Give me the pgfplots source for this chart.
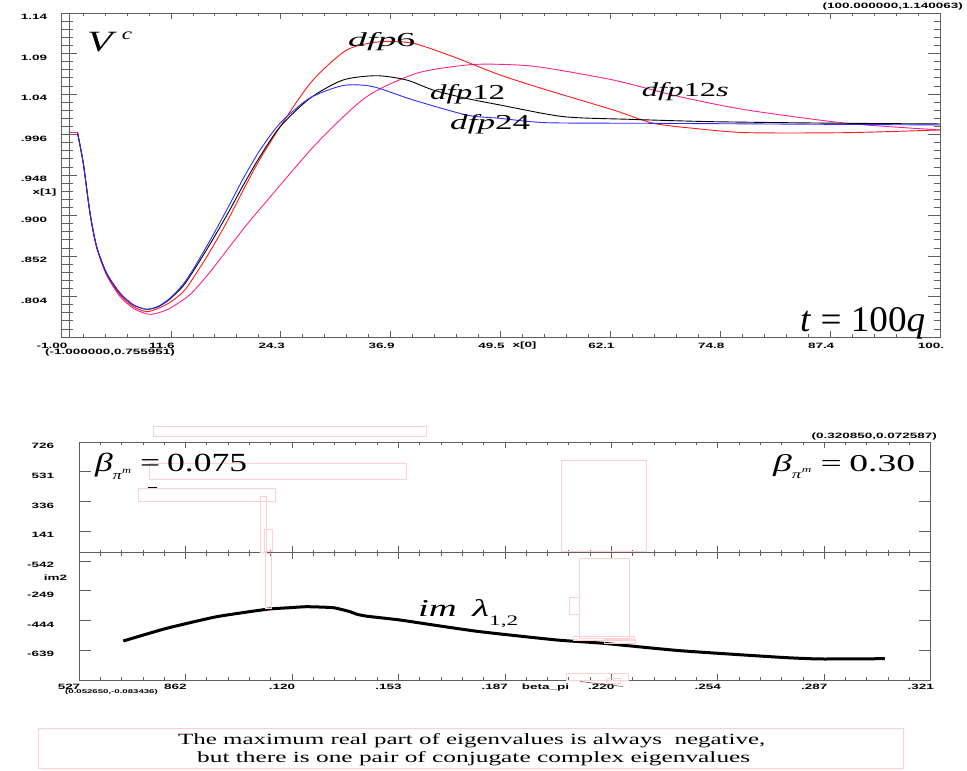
\documentclass[border=0pt]{standalone}
\usepackage{fontspec}
\usepackage{graphicx}
\usepackage{pgfplots}
\pgfplotsset{compat=1.18}
\setmainfont{Liberation Serif}
\newfontfamily\tickfont[FakeStretch=1.75]{Liberation Sans Bold}

\definecolor{axgray}{RGB}{95,95,95}
\definecolor{cred}{RGB}{255,25,25}
\definecolor{cblue}{RGB}{45,45,255}
\definecolor{cmag}{RGB}{250,35,145}
\definecolor{boxpink}{RGB}{255,208,208}

\newcommand{\tkf}{\tickfont\fontsize{7.7}{8}\selectfont}
\newcommand{\pbox}[4]{\draw[boxpink, line width=0.8pt] (#1,771-#2) rectangle (#3,771-#4);}
% label placed by its baseline-left corner, stretched to a given width and height
\newcommand{\lab}[5]{\node[anchor=base west, inner sep=0pt] at (#1,771-#2) {\resizebox{#3pt}{#4pt}{#5}};}

\pgfplotsset{
  panel/.style={
    scale only axis, anchor=south west, scaled ticks=false,
    axis line style={draw=axgray, line width=0.8pt, -},
    every tick/.style={draw=axgray, line width=0.7pt},
    tick align=inside,
    ticklabel style={font=\tkf, text=black},
  },
  top/.style={panel, at={(61pt,434pt)}, width=879pt, height=324pt,
    xmin=-1, xmax=100, ymin=0.755951, ymax=1.140063},
  bot/.style={panel, at={(79pt,91pt)}, width=851.7pt, height=238pt,
    xmin=0.05265, xmax=0.32085, ymin=-0.083436, ymax=0.072587},
}

\begin{document}
\begin{tikzpicture}
\begin{scope}[x=1pt, y=1pt]
\useasboundingbox (0,0) rectangle (967,771);
\end{scope}

% ---------------- upper panel: V^c against time ----------------
\begin{axis}[top,
  xtick={-1,11.625,24.25,36.875,49.5,62.125,74.75,87.375,100},
  xticklabels={-1.00,11.6,24.3,36.9,49.5,62.1,74.8,87.4,100.},
  minor x tick num=4, ytick=\empty,
  major tick length=6pt, minor tick length=3pt,
  xticklabel style={xshift=-9pt, yshift=-3pt},
  clip=false]
  % common starting value
  \addplot[cmag, line width=0.9pt] coordinates {(0,0.998) (0.9,0.998)};
  % dfp12s
  \addplot[cmag, line width=0.9pt, smooth, tension=0.45] coordinates {
    (0.9,0.998) (1.56,0.962) (2.33,0.903) (3.10,0.862) (4.25,0.829)
    (5.78,0.804) (7.31,0.790) (9.03,0.7829) (10.3,0.785) (11.52,0.790)
    (13.8,0.806) (16.12,0.833) (19.95,0.884) (22.3,0.913) (28.38,0.9856)
    (34.12,1.0408) (39.87,1.0686) (45.62,1.0784) (49.44,1.0792) (54.0,1.076)
    (62.46,1.0606) (70.1,1.0408) (77.8,1.0251) (89.3,1.0093) (100,1.0014)};
  % dfp6
  \addplot[cred, line width=0.9pt, smooth, tension=0.45] coordinates {
    (0.9,0.998) (1.56,0.962) (2.33,0.903) (3.10,0.862) (4.25,0.830)
    (5.78,0.806) (7.31,0.792) (8.85,0.786) (10.2,0.790) (11.52,0.797)
    (13.0,0.809) (14.2,0.826) (16.1,0.857) (18.04,0.892) (19.95,0.9302)
    (21.87,0.967) (24.93,1.0171) (27.99,1.061) (31.83,1.0962) (35.65,1.1060)
    (39.48,1.1041) (44.08,1.0882) (49.44,1.0666) (54.81,1.0488) (62.46,1.0251)
    (67.06,1.0093) (72,1.003) (77.8,0.9982) (89.3,0.9982) (100,1.0014)};
  % dfp12
  \addplot[black, line width=0.9pt, smooth, tension=0.45] coordinates {
    (0.9,0.998) (1.56,0.962) (2.33,0.903) (3.10,0.863) (4.25,0.8315)
    (5.78,0.808) (7.31,0.794) (8.85,0.7888) (10.2,0.792) (11.52,0.801)
    (13.0,0.816) (14.2,0.834) (16.0,0.864) (18.04,0.900) (19.95,0.936)
    (21.87,0.970) (24.16,1.005) (27.61,1.039) (31.40,1.0606) (35.27,1.0657)
    (38.72,1.0606) (41.74,1.0488) (45.5,1.039) (49.44,1.031) (56.71,1.0172)
    (64.38,1.014) (73.9,1.0112) (87,1.0095) (100,1.0085)};
  % dfp24
  \addplot[cblue, line width=0.9pt, smooth, tension=0.45] coordinates {
    (0.9,0.998) (1.56,0.962) (2.33,0.903) (3.10,0.863) (4.25,0.8315)
    (5.78,0.808) (7.31,0.794) (8.85,0.7888) (10.2,0.7925) (11.52,0.802)
    (13.0,0.818) (14.2,0.8364) (16.1,0.870) (18.04,0.9065) (19.95,0.944)
    (21.87,0.9776) (24.16,1.0093) (27.23,1.0369) (29.5,1.048) (31.83,1.0547)
    (34.88,1.0527) (39.48,1.0369) (45.62,1.0191) (49.44,1.0152) (54.81,1.0100)
    (66.3,1.0093) (80,1.0085) (100,1.0073)};
\end{axis}
% y ticks of the upper panel
\begin{axis}[top, xtick=\empty,
  ytick={0.755951,0.803965,0.851979,0.899993,0.948007,0.996021,1.044035,1.092049,1.140063},
  yticklabels={,.804,.852,.900,.948,.996,1.04,1.09,1.14},
  minor y tick num=4, major tick length=12pt, minor tick length=6pt,
  yticklabel style={anchor=east, xshift=-10.4pt, yshift=-4pt}]
\end{axis}
% zero line of the upper panel
\begin{axis}[top, axis x line=none, axis y line=middle,
  every inner y axis line/.append style={-},
  ytick={0.755951,0.803965,0.851979,0.899993,0.948007,0.996021,1.044035,1.092049,1.140063},
  yticklabels={,,,,,,,,}, minor y tick num=4,
  major tick length=14pt, minor tick length=7pt]
\end{axis}

% ---------------- lower panel: imaginary part ----------------
\begin{axis}[bot,
  xtick={0.05265,0.086175,0.1197,0.153225,0.18675,0.220275,0.2538,0.287325,0.32085},
  xticklabels={527,862,.120,.153,.187,.220,.254,.287,.321},
  minor x tick num=4, ytick=\empty,
  major tick length=6pt, minor tick length=3pt,
  xticklabel style={xshift=-10pt, yshift=-1pt},
  clip=false]
  \addplot[black, line width=3pt, smooth, tension=0.3] coordinates {
    (0.06660,-0.05787) (0.08027,-0.04954) (0.09601,-0.04194) (0.11176,-0.03709)
    (0.11909,-0.03604) (0.12435,-0.03538) (0.13273,-0.03604) (0.13799,-0.03866)
    (0.14010,-0.04030) (0.14325,-0.04160) (0.15373,-0.04410) (0.16422,-0.04738)
    (0.17892,-0.05177) (0.20308,-0.05721) (0.21775,-0.05937) (0.24190,-0.06422)
    (0.27339,-0.06855) (0.28599,-0.06966) (0.30645,-0.06946)};
\end{axis}
\begin{axis}[bot, xtick=\empty,
  ytick={-0.083436,-0.063934,-0.044431,-0.024928,-0.005425,0.014078,0.033581,0.053084,0.072587},
  yticklabels={,-639,-444,-249,-542,141,336,531,726},
  minor y tick num=4, major tick length=12pt, minor tick length=6pt,
  yticklabel style={anchor=east, xshift=-21.4pt, yshift=-4pt}]
\end{axis}
\begin{axis}[bot, axis y line=none, axis x line=middle,
  every inner x axis line/.append style={-},
  xtick={0.05265,0.086175,0.1197,0.153225,0.18675,0.220275,0.2538,0.287325,0.32085},
  xticklabels={,,,,,,,,}, minor x tick num=4, tick align=center,
  major tick length=13pt, minor tick length=6pt]
\end{axis}

\begin{scope}[x=1pt, y=1pt]
% annotation frames
\pbox{153.3}{426}{426}{436}
\pbox{149}{463.3}{406.7}{479.3}
\pbox{138.3}{488.3}{275}{501}
\pbox{260}{496.7}{266.7}{552.3}
\pbox{264.3}{529.3}{272.7}{551.7}
\pbox{265}{553}{271.7}{608}
\pbox{561.3}{460.7}{646}{551}
\pbox{579}{558}{629.3}{638}
\pbox{569.3}{597.7}{579}{614.3}
\pbox{573.3}{636.7}{634}{640}
\pbox{604}{639.3}{635.3}{643.3}
\pbox{566}{673.3}{628.3}{680}
\pbox{606.7}{678.3}{620}{683.3}
\pbox{38}{728}{903}{768}
\draw[black, line width=0.7pt] (148,771-487.7) -- (157,771-487.7);
\draw[axgray, line width=0.6pt] (580,771-681.5) -- (623,771-686.5);

% axis names and corner coordinates
\node[font=\tkf, inner sep=0pt] at (44.5,771-193) {x[1]};
\node[font=\tkf, inner sep=0pt] at (524.5,771-346) {x[0]};
\node[font=\tkf, inner sep=0pt] at (55.5,771-578) {im2};
\node[font=\tkf, inner sep=0pt] at (545.5,771-688) {beta\_pi};
\node[font=\tkf, inner sep=0pt, anchor=east] at (963,771-7) {(100.000000,1.140063)};
\node[font=\tkf, inner sep=0pt, anchor=west] at (45,771-353) {(-1.000000,0.755951)};
\node[font=\tkf, inner sep=0pt, anchor=east] at (937,771-437) {(0.320850,0.072587)};
\node[font=\tickfont\fontsize{5.5}{6}\selectfont, inner sep=0pt, anchor=west] at (65,771-692) {(0.052650,-0.083436)};

% curve names and parameters
\lab{87}{52}{45}{20}{\fontsize{20}{20}\selectfont\textit{V}\kern0.12em\raisebox{0.42em}{\fontsize{11}{11}\selectfont\textit{c}}}
\lab{348}{47}{67}{14}{\fontsize{20}{20}\selectfont\textit{dfp}6}
\lab{430}{100}{75}{15}{\fontsize{20}{20}\selectfont\textit{dfp}12}
\lab{450}{130}{80}{15}{\fontsize{20}{20}\selectfont\textit{dfp}24}
\lab{641.7}{96.7}{87}{14}{\fontsize{20}{20}\selectfont\textit{dfp}12\textit{s}}
\lab{800}{331.7}{125}{24}{\fontsize{20}{20}\selectfont\textit{t}\hspace{0.25em}=\hspace{0.25em}100\textit{q}}
\lab{95}{471.7}{152}{18.4}{\fontsize{20}{20}\selectfont\textit{β}\raisebox{-0.3em}{\fontsize{10}{10}\selectfont\textit{π}\raisebox{0.5em}{\fontsize{7}{7}\selectfont\textit{m}}}\hspace{0.25em}=\hspace{0.2em}0.075}
\lab{773}{471.7}{142}{17}{\fontsize{20}{20}\selectfont\textit{β}\raisebox{-0.3em}{\fontsize{10}{10}\selectfont\textit{π}\raisebox{0.5em}{\fontsize{7}{7}\selectfont\textit{m}}}\hspace{0.25em}=\hspace{0.2em}0.30}
\lab{418}{617}{100}{17}{\fontsize{20}{20}\selectfont\textit{im}\hspace{0.4em}\textit{λ}\raisebox{-0.35em}{\fontsize{12}{12}\selectfont 1,2}}
\lab{178}{745}{587}{11}{\fontsize{15}{15}\selectfont The maximum real part of eigenvalues is always\ \ negative,}
\lab{197}{763}{553}{11}{\fontsize{15}{15}\selectfont but there is one pair of conjugate complex eigenvalues}
\end{scope}
\end{tikzpicture}
\end{document}
